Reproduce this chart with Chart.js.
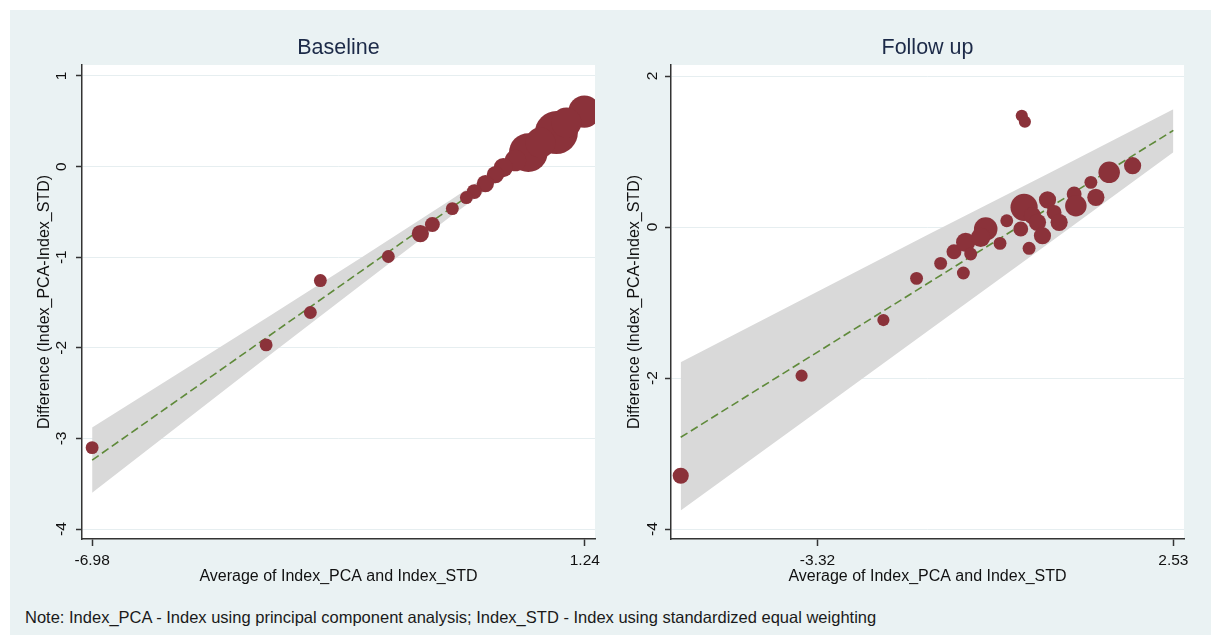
<!DOCTYPE html>
<html>
<head>
<meta charset="utf-8">
<script src="https://cdn.jsdelivr.net/npm/chart.js@4.4.1/dist/chart.umd.min.js"></script>
<style>
  html, body { margin: 0; padding: 0; background: #fff; }
  body { width: 1211px; height: 635px; position: relative; overflow: hidden; font-family: 'Liberation Sans', Arial, sans-serif; }
  #frame { position: absolute; left: 10px; top: 10px; width: 1201px; height: 625px; background: #eaf2f3; }
  canvas { position: absolute; top: 10px; }
  #baseline { left: 10px; }
  #followup { left: 605px; }
  #note { position: absolute; left: 25px; top: 607px; font-size: 16.5px; line-height: 20px; color: #1a1a1a; white-space: nowrap; }
</style>
</head>
<body>
<div id="frame"></div>
<canvas id="baseline" width="612" height="585"></canvas>
<canvas id="followup" width="606" height="585"></canvas>
<div id="note">Note: Index_PCA - Index using principal component analysis; Index_STD - Index using standardized equal weighting</div>
<script>
// Baseline panel
const baseAvg = [1.233, 0.766, 0.933, 0.298, 0.499, 0.082, -0.119, -0.252, -0.419, -0.603, -0.736,
                 -0.970, -1.303, -1.504, -2.038, -3.172, -3.339, -4.077, -6.98];
const baseDiff = [0.607, 0.375, 0.486, 0.155, 0.265, 0.066, -0.011, -0.088, -0.188, -0.276, -0.342,
                  -0.464, -0.640, -0.740, -0.993, -1.258, -1.611, -1.968, -3.102];
const baseWeight = [56, 100, 49, 81, 49, 25, 20, 16, 16, 12, 9,
                    9, 12, 16, 9, 9, 9, 9, 9];
const baseFitX = [-6.98, 1.24];
const baseFitY = [-3.24, 0.58];
const baseBandX = [-6.98, -5.5, -4, -2.5, -1, 0.5, 1.24];
const baseBandUpper = [-2.88, -2.265, -1.64, -1.01, -0.37, 0.29, 0.65];
const baseBandLower = [-3.60, -2.84, -2.07, -1.31, -0.55, 0.18, 0.51];
const baseXTicks = [-6.98, 1.24];
const baseYTicks = [-4, -3, -2, -1, 0, 1];

// Follow up panel
const followAvg = [-5.569, -3.582, -2.237, -1.692, -1.296, -0.922, -1.077, -0.885, -0.802, -0.555,
                   -0.638, -0.320, -0.209, 0.076, 0.214, 0.021, 0.158, 0.296, 0.378, 0.461,
                   0.569, 0.652, 0.899, 0.927, 1.174, 1.256, 1.475, 1.860, 0.038, 0.089];
const followDiff = [-3.294, -1.969, -1.232, -0.680, -0.481, -0.609, -0.327, -0.203, -0.358, -0.026,
                    -0.137, -0.216, 0.083, 0.261, 0.150, -0.026, -0.282, 0.062, -0.115, 0.360,
                    0.194, 0.062, 0.437, 0.282, 0.592, 0.393, 0.724, 0.812, 1.474, 1.395];
const followWeight = [14, 8, 8, 9, 9, 9, 12, 20, 9, 30,
                      20, 9, 9, 40, 16, 12, 9, 16, 16, 16,
                      12, 16, 12, 25, 9, 16, 25, 16, 8, 8];
const followFitX = [-5.57, 2.53];
const followFitY = [-2.785, 1.28];
const followBandX = [-5.57, -3.5, -1.5, 0.5, 2.53];
const followBandUpper = [-1.79, -0.93, -0.10, 0.72, 1.56];
const followBandLower = [-3.755, -2.545, -1.375, -0.205, 0.99];
const followXTicks = [-3.32, 2.53];
const followYTicks = [-4, -2, 0, 2];

const FONT = "'Liberation Sans', Arial, sans-serif";

const plotBackground = {
    id: 'plotBackground',
    beforeDraw(chart) {
        const { ctx, chartArea: a } = chart;
        ctx.save();
        ctx.fillStyle = '#ffffff';
        ctx.fillRect(a.left, a.top, a.right - a.left, a.bottom - a.top);
        ctx.restore();
    }
};

const panelTitle = {
    id: 'panelTitle',
    afterDraw(chart, args, opts) {
        const { ctx, chartArea: a } = chart;
        ctx.save();
        ctx.font = '21.5px ' + FONT;
        ctx.fillStyle = '#1c2a48';
        ctx.textAlign = 'center';
        ctx.textBaseline = 'middle';
        ctx.fillText(opts.text, (a.left + a.right) / 2, 38);
        ctx.restore();
    }
};

function pairs(xs, ys) {
    return xs.map((x, i) => ({ x: x, y: ys[i] }));
}

function renderPanel(canvasId, p) {
    const ctx = document.getElementById(canvasId).getContext('2d');
    return new Chart(ctx, {
        type: 'bubble',
        data: {
            datasets: [
                {
                    type: 'bubble',
                    data: p.avg.map((x, i) => ({ x: x, y: p.diff[i], r: 2.15 * Math.sqrt(p.weight[i]) })),
                    backgroundColor: '#8b323a',
                    borderWidth: 0,
                    hoverRadius: 0,
                    order: 0
                },
                {
                    type: 'line',
                    data: pairs(p.bandX, p.upper),
                    borderColor: 'rgba(0,0,0,0)',
                    pointRadius: 0,
                    fill: false,
                    order: 3
                },
                {
                    type: 'line',
                    data: pairs(p.bandX, p.lower),
                    borderColor: 'rgba(0,0,0,0)',
                    backgroundColor: '#d9d9d9',
                    pointRadius: 0,
                    fill: '-1',
                    order: 2
                },
                {
                    type: 'line',
                    data: pairs(p.fitX, p.fitY),
                    borderColor: '#5f8a3a',
                    borderWidth: 1.6,
                    borderDash: [8, 4],
                    pointRadius: 0,
                    fill: false,
                    order: 1
                }
            ]
        },
        options: {
            responsive: false,
            animation: false,
            events: [],
            layout: { padding: { left: 0, top: 55, right: 27, bottom: 0 } },
            scales: {
                x: {
                    type: 'linear',
                    min: p.xMin,
                    max: p.xMax,
                    afterBuildTicks: s => { s.ticks = p.xTicks.map(v => ({ value: v })); },
                    afterFit: s => { s.height = 56; },
                    ticks: {
                        autoSkip: false, maxRotation: 0, minRotation: 0, padding: 5,
                        color: '#111', font: { size: 15.5, family: FONT },
                        callback: v => v.toFixed(2)
                    },
                    grid: { drawOnChartArea: false, tickLength: 7, tickColor: '#333', tickWidth: 1.5 },
                    border: { display: true, color: '#333', width: 1.5 },
                    title: {
                        display: true, text: 'Average of Index_PCA and Index_STD',
                        color: '#111', font: { size: 16, family: FONT }, padding: { top: 0, bottom: 9 }
                    }
                },
                y: {
                    type: 'linear',
                    min: p.yMin,
                    max: p.yMax,
                    afterBuildTicks: s => { s.ticks = p.yTicks.map(v => ({ value: v })); },
                    afterFit: s => { s.width = p.yAxisWidth; },
                    ticks: {
                        autoSkip: false, minRotation: 90, maxRotation: 90, crossAlign: 'center',
                        padding: p.yTickPad, color: '#111', font: { size: 15.5, family: FONT },
                        callback: v => String(v)
                    },
                    grid: { color: '#e6eef0', lineWidth: 1, tickLength: 6, tickColor: '#333', tickWidth: 1.5 },
                    border: { display: true, color: '#333', width: 1.5 },
                    title: {
                        display: true, text: 'Difference (Index_PCA-Index_STD)',
                        color: '#111', font: { size: 16, family: FONT }, padding: { top: p.yTitlePad, bottom: 0 }
                    }
                }
            },
            plugins: {
                legend: { display: false },
                tooltip: { enabled: false },
                panelTitle: { text: p.title }
            }
        },
        plugins: [plotBackground, panelTitle]
    });
}

renderPanel('baseline', {
    title: 'Baseline',
    avg: baseAvg, diff: baseDiff, weight: baseWeight,
    fitX: baseFitX, fitY: baseFitY,
    bandX: baseBandX, upper: baseBandUpper, lower: baseBandLower,
    xTicks: baseXTicks, yTicks: baseYTicks,
    xMin: -7.149, xMax: 1.41, yMin: -4.11, yMax: 1.121,
    yAxisWidth: 72, yTickPad: 7, yTitlePad: 25
});

renderPanel('followup', {
    title: 'Follow up',
    avg: followAvg, diff: followDiff, weight: followWeight,
    fitX: followFitX, fitY: followFitY,
    bandX: followBandX, upper: followBandUpper, lower: followBandLower,
    xTicks: followXTicks, yTicks: followYTicks,
    xMin: -5.729, xMax: 2.705, yMin: -4.132, yMax: 2.146,
    yAxisWidth: 66, yTickPad: 5.5, yTitlePad: 20.4
});
</script>
</body>
</html>
